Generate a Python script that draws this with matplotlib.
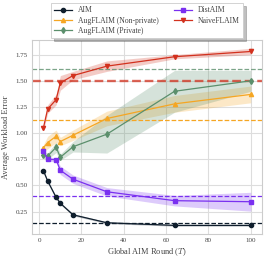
import matplotlib
matplotlib.use("Agg")
import matplotlib.pyplot as plt
import numpy as np

rounds = [2, 4, 8, 10, 16, 32, 64, 100]

aim_mean = [0.642, 0.543, 0.387, 0.330, 0.220, 0.144, 0.119, 0.119]
aim_err = [0.01, 0.01, 0.01, 0.01, 0.01, 0.008, 0.008, 0.008]

aug_np_mean = [0.86, 0.91, 0.97, 0.92, 0.98, 1.14, 1.28, 1.37]
aug_np_err = [0.03, 0.06, 0.06, 0.04, 0.05, 0.07, 0.08, 0.08]

aug_p_mean = [0.79, 0.78, 0.865, 0.77, 0.87, 0.99, 1.40, 1.50]
aug_p_err = [0.03, 0.03, 0.05, 0.03, 0.05, 0.18, 0.20, 0.10]

dist_mean = [0.83, 0.75, 0.747, 0.645, 0.56, 0.44, 0.355, 0.345]
dist_err = [0.03, 0.02, 0.02, 0.04, 0.04, 0.04, 0.05, 0.09]

naive_mean = [1.05, 1.23, 1.32, 1.48, 1.55, 1.64, 1.73, 1.78]
naive_err = [0.03, 0.04, 0.05, 0.07, 0.04, 0.05, 0.02, 0.03]

baselines = {"AIM": 0.138, "DistAIM": 0.40, "AugNP": 1.13, "AugP": 1.61, "Naive": 1.50}

plt.rcParams['font.family'] = ['Liberation Serif', 'DejaVu Serif']
plt.rcParams['mathtext.fontset'] = 'cm'

fig = plt.figure(figsize=(2.66, 2.63), dpi=100)
ax = fig.add_axes([0.121, 0.110, 0.864, 0.738])

series = [
    ("AIM", aim_mean, aim_err, "#0f1e2d", "o", baselines["AIM"], 0.9, 1.0),
    ("AugFLAIM (Non-private)", aug_np_mean, aug_np_err, "#f5a623", "^", baselines["AugNP"], 0.9, 1.0),
    ("AugFLAIM (Private)", aug_p_mean, aug_p_err, "#5b8f6c", "d", baselines["AugP"], 0.9, 0.8),
    ("DistAIM", dist_mean, dist_err, "#7a30f0", "s", baselines["DistAIM"], 0.9, 1.0),
    ("NaiveFLAIM", naive_mean, naive_err, "#d2311e", "v", baselines["Naive"], 1.7, 0.75),
]

x = np.array(rounds)
for label, m, e, c, mk, base, lw, al in series:
    m = np.array(m); e = np.array(e)
    ax.fill_between(x, m - e, m + e, color=c, alpha=0.25, linewidth=0)
    ax.plot(x, m, color=c, marker=mk, markersize=3, linewidth=0.9, label=label, zorder=3)
    ax.axhline(base, color=c, linestyle="--", linewidth=lw, alpha=al, zorder=2)

ax.set_xlim(-3.3, 105.3)
ax.set_ylim(0.036, 1.89)
ax.set_xticks([0, 20, 40, 60, 80, 100])
ax.set_yticks([0.25, 0.50, 0.75, 1.00, 1.25, 1.50, 1.75])
ax.set_yticklabels(["0.25", "0.50", "0.75", "1.00", "1.25", "1.50", "1.75"])
ax.tick_params(labelsize=5, length=0, pad=3, colors="#444444")
ax.grid(True, color="#dddddd", linewidth=0.8)
ax.set_axisbelow(True)
for s in ax.spines.values():
    s.set_color("#cccccc")
    s.set_linewidth(0.8)

ax.set_xlabel(r"Global AIM Round ($T$)", fontsize=6, color="#444444", labelpad=2)
ax.set_ylabel("Average Workload Error", fontsize=6, color="#444444", labelpad=4)

leg = ax.legend(loc="lower center", bbox_to_anchor=(0.5, 0.99), ncol=2, fontsize=5.5,
                frameon=True, shadow={'alpha': 0.35}, fancybox=False, borderpad=0.4,
                handlelength=2.3, columnspacing=2.0, labelspacing=0.3)
leg.get_frame().set_edgecolor("#cccccc")
leg.get_frame().set_linewidth(0.6)
for t in leg.get_texts():
    t.set_color("#444444")

fig.savefig("out.png", dpi=100)
